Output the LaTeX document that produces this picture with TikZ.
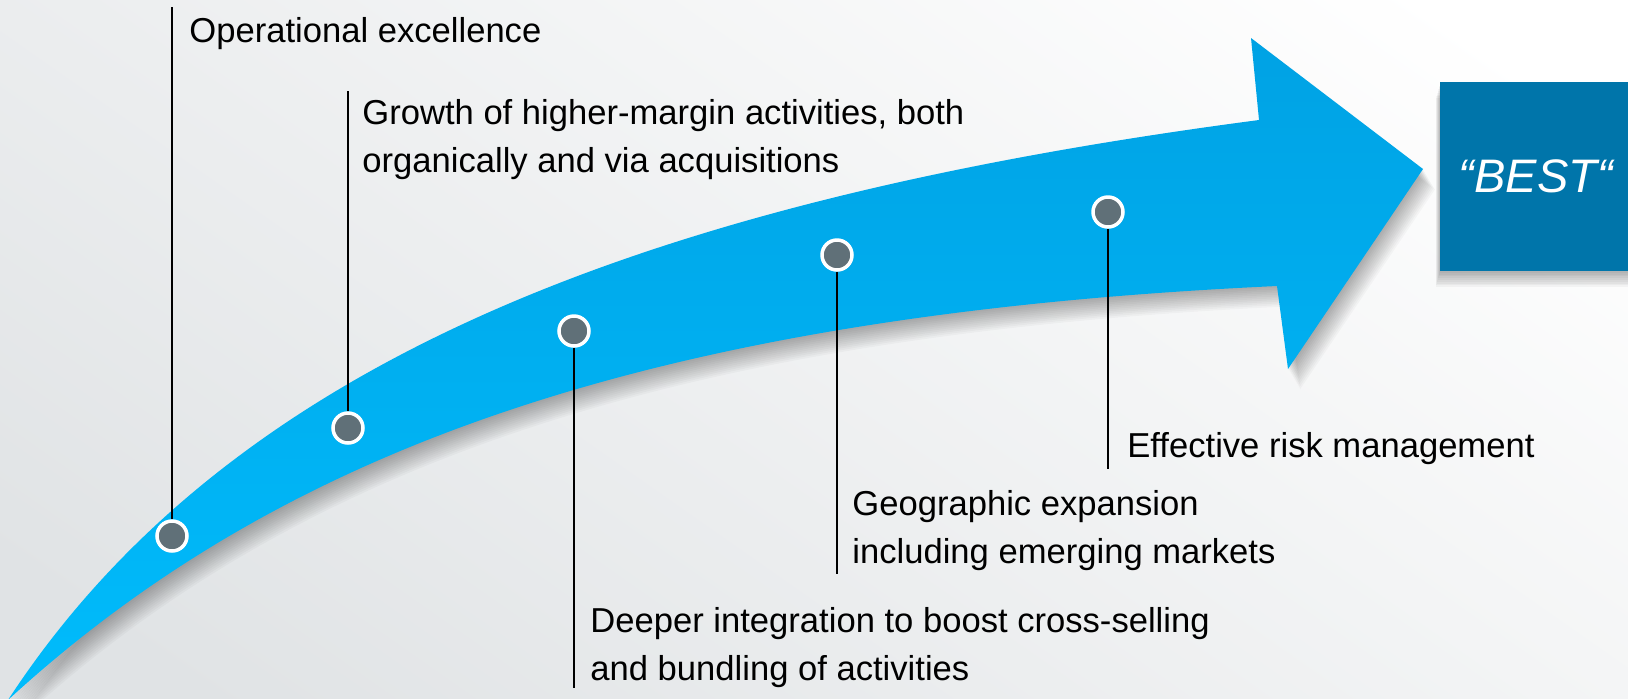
\documentclass[tikz,border=0pt]{standalone}
\usepackage{fontspec}
\setmainfont{Liberation Sans}
\definecolor{bggray}{RGB}{224,227,229}
\definecolor{arrowtop}{RGB}{0,162,228}
\definecolor{arrowbot}{RGB}{0,188,252}
\definecolor{boxblue}{RGB}{0,117,170}
\definecolor{dotgray}{RGB}{96,112,120}
\def\arrowshape{(8,700) .. controls (230,360) and (650,200) .. (1259,120) -- (1251,38) -- (1423,169) -- (1288,369) -- (1277,286) .. controls (650,315) and (280,450) .. (8,700) -- cycle}
\tikzset{
  dotnode/.style={circle, fill=dotgray, draw=white, line width=1.75pt, minimum size=15pt, inner sep=0pt},
  leader/.style={black, line width=1pt},
  label text/.style={anchor=base west, inner sep=0pt, align=left, font=\fontsize{17.3}{23.6}\selectfont, text=black},
}
\begin{document}
\begin{tikzpicture}[x=0.5pt,y=-0.5pt]
\useasboundingbox (0,0) rectangle (1628,698);
\shade[top color=white, bottom color=bggray, shading angle=-35] (-100,-100) rectangle (1728,798);
% arrow shadow
\foreach \s in {1,...,12} {
  \fill[black, opacity=0.028, shift={(\s*1.0,\s*1.7)}] \arrowshape;
}
\shade[top color=arrowtop, bottom color=arrowbot] \arrowshape;
% box shadow
\foreach \s in {1,...,9} {
  \fill[black, opacity=0.035] (1440-\s*0.5,82+\s*1.8) rectangle (1640,271+\s*1.8);
}
\fill[boxblue] (1440,82) rectangle (1640,271);
\node[inner sep=0pt, text=white, font=\fontsize{23.5}{28}\selectfont\itshape] (best) at (1536,176) {“BEST“};
% dots
\node[dotnode] (d1) at (172,536) {};
\node[dotnode] (d2) at (348,428) {};
\node[dotnode] (d3) at (574,331) {};
\node[dotnode] (d4) at (837,255) {};
\node[dotnode] (d5) at (1108,212) {};
% leader ends
\coordinate (e1) at (172,7);
\coordinate (e2) at (348,91);
\coordinate (e3) at (574,688);
\coordinate (e4) at (837,574);
\coordinate (e5) at (1108,469);
\draw[leader] (e1) -- (d1);
\draw[leader] (e2) -- (d2);
\draw[leader] (d3) -- (e3);
\draw[leader] (d4) -- (e4);
\draw[leader] (d5) -- (e5);
% texts
\node[label text] (t1) at (189,42) {Operational excellence};
\node[label text] (t2) at (362,172) {Growth of higher-margin activities, both\\organically and via acquisitions};
\node[label text] (t3) at (590,680) {Deeper integration to boost cross-selling\\and bundling of activities};
\node[label text] (t4) at (852,563) {Geographic expansion\\including emerging markets};
\node[label text] (t5) at (1127,457) {Effective risk management};
\end{tikzpicture}
\end{document}
